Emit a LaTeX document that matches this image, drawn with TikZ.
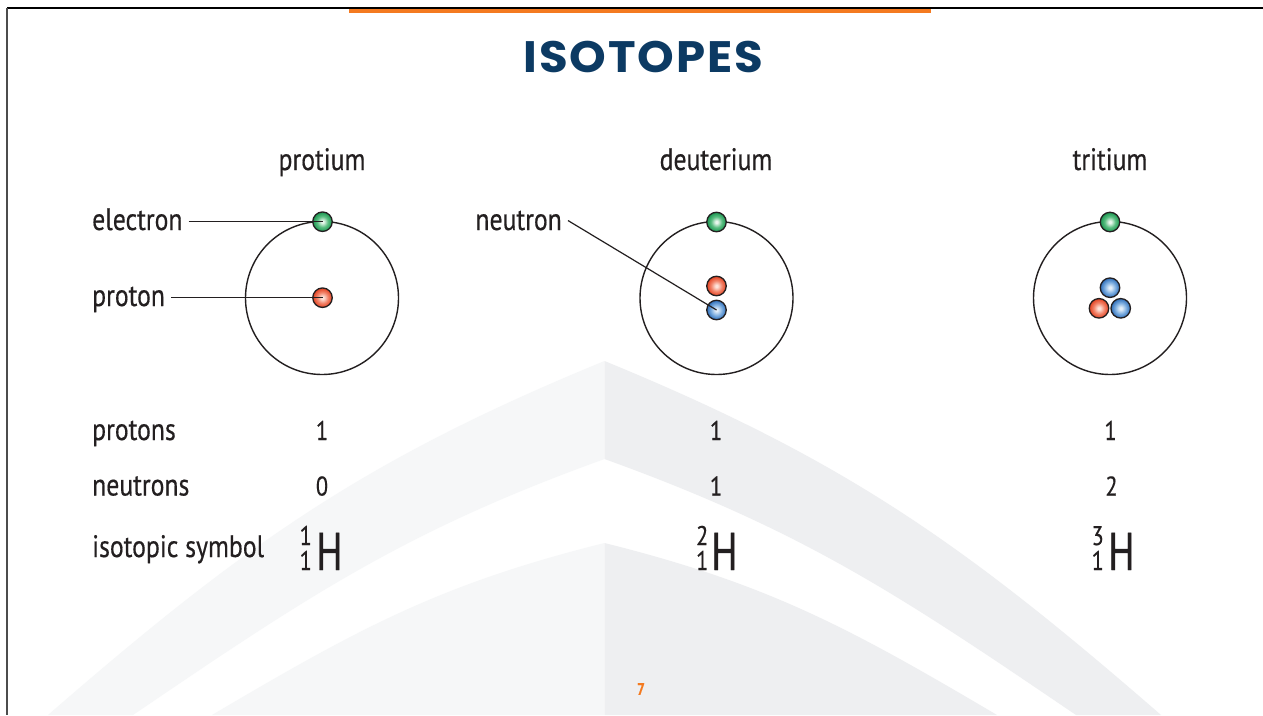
\documentclass[tikz,border=0pt]{standalone}
\usepackage{fontspec}
\setmainfont{PT Sans}[FakeStretch=0.83, FakeBold=0.4]
\newfontfamily\titlefont{Poppins}[FakeStretch=1.06, LetterSpace=4.5]
\newfontfamily\symfont{PT Sans}[FakeStretch=0.74, FakeBold=0.8]

% palette
\definecolor{ink}{HTML}{231F20}
\definecolor{navy}{HTML}{0C3A63}
\definecolor{accent}{HTML}{F47A20}
\definecolor{archL}{HTML}{F6F7F8}
\definecolor{archR}{HTML}{EEEFF1}
\definecolor{gCore}{HTML}{E8F6EC}
\definecolor{gMid}{HTML}{59BD80}
\definecolor{gEdge}{HTML}{1A9550}
\definecolor{rCore}{HTML}{FDE3DA}
\definecolor{rMid}{HTML}{F2846A}
\definecolor{rEdge}{HTML}{E2401F}
\definecolor{bCore}{HTML}{E3EEF9}
\definecolor{bMid}{HTML}{7DAEE0}
\definecolor{bEdge}{HTML}{2E6DB8}

% glossy particle shadings (edge of the circle sits at 25bp)
\pgfdeclareradialshading{greenball}{\pgfpoint{0bp}{0bp}}{%
  color(0bp)=(gCore); color(3bp)=(gCore); color(14bp)=(gMid); color(25bp)=(gEdge); color(50bp)=(gEdge)}
\pgfdeclareradialshading{redball}{\pgfpoint{0bp}{0bp}}{%
  color(0bp)=(rCore); color(3bp)=(rCore); color(14bp)=(rMid); color(25bp)=(rEdge); color(50bp)=(rEdge)}
\pgfdeclareradialshading{blueball}{\pgfpoint{0bp}{0bp}}{%
  color(0bp)=(bCore); color(3bp)=(bCore); color(14bp)=(bMid); color(25bp)=(bEdge); color(50bp)=(bEdge)}

\tikzset{
  orbit/.style={draw=ink, line width=1.4pt},
  particle/.style={circle, minimum size=19.5pt, inner sep=0pt, draw=ink, line width=1.3pt},
  electronball/.style={particle, shading=greenball},
  protonball/.style={particle, shading=redball},
  neutronball/.style={particle, shading=blueball},
  leader/.style={draw=ink, line width=1.2pt},
  sidetext/.style={text=ink, font=\fontsize{31}{31}\selectfont, inner xsep=6pt, inner ysep=0pt},
  header/.style={text=ink, font=\fontsize{31}{31}\selectfont, inner sep=0pt, anchor=base},
  rowname/.style={text=ink, font=\fontsize{31}{31}\selectfont, inner sep=0pt, anchor=base west},
  rowvalue/.style={text=ink, font=\fontsize{27}{27}\selectfont, inner sep=0pt, anchor=base},
  element/.style={text=ink, font=\symfont\fontsize{53}{53}\selectfont, inner sep=0pt, anchor=base west},
  nucleon/.style={text=ink, font=\fontsize{27}{27}\selectfont, inner sep=0pt, anchor=base east},
}

\begin{document}
\begin{tikzpicture}[x=1pt, y=-1pt]
\useasboundingbox (0,0) rectangle (1263,715);
\fill[white] (0,0) rectangle (1263,715);

% background arches
\fill[archL] (604.5,361) .. controls (364,459.6) and (244.3,544.4) .. (48,715)
  -- (133,715) .. controls (308.3,595.9) and (405,530.9) .. (604.5,459) -- cycle;
\fill[archR] (604.5,361) .. controls (845,459.6) and (964.7,544.4) .. (1161,715)
  -- (1076,715) .. controls (900.7,595.9) and (804,530.9) .. (604.5,459) -- cycle;
\fill[archL] (604.5,543) .. controls (439.6,584.1) and (358.5,628.6) .. (212,715)
  -- (604.5,715) -- cycle;
\fill[archR] (604.5,543) .. controls (769.4,584.1) and (850.5,628.6) .. (997,715)
  -- (604.5,715) -- cycle;

% frame and accent bar
\draw[line width=1.2pt, black] (7,8) -- (1263,8);
\draw[line width=1.2pt, black!70] (7,8) -- (7,715);
\fill[accent] (349,9) rectangle (931,13);

% title
\node[text=navy, font=\titlefont\bfseries\fontsize{44}{44}\selectfont, inner sep=0pt, anchor=base]
  (title) at (643.5,72.3) {ISOTOPES};

% column headers
\node[header] (hprotium) at (322,170) {protium};
\node[header] (hdeuterium) at (716,170) {deuterium};
\node[header] (htritium) at (1110,170) {tritium};

% orbits
\draw[orbit] (322,298) circle[radius=76.5];
\draw[orbit] (716.5,298) circle[radius=76.5];
\draw[orbit] (1110,298) circle[radius=76.5];

% protium
\node[electronball] (e1) at (322.5,221.7) {};
\node[protonball] (p1) at (322.5,297.7) {};
% deuterium
\node[electronball] (e2) at (716.5,222) {};
\node[protonball] (p2) at (716.5,286) {};
\node[neutronball] (n2) at (716.5,310) {};
% tritium
\node[electronball] (e3) at (1110,222) {};
\node[neutronball] (n3a) at (1110,287.7) {};
\node[protonball] (p3) at (1099,308.3) {};
\node[neutronball] (n3b) at (1120.7,308.3) {};

% side labels and leaders
\node[sidetext, anchor=base west] (lelectron) at (86,230) {electron};
\node[sidetext, anchor=base west] (lproton) at (86,306) {proton};
\node[sidetext, anchor=base east] (lneutron) at (568,230) {neutron};
\draw[leader] (lelectron.east |- e1.center) -- (e1.center);
\draw[leader] (lproton.east |- p1.center) -- (p1.center);
\draw[leader] (lneutron.east) -- (n2.center);

% table rows
\node[rowname] (rprotons) at (92,440) {protons};
\node[rowname] (rneutrons) at (92,495.5) {neutrons};
\node[rowname] (rsymbol) at (92,557) {isotopic symbol};

\node[rowvalue] (zp1) at (322,440) {1};
\node[rowvalue] (zp2) at (716,440) {1};
\node[rowvalue] (zp3) at (1110.5,440) {1};
\node[rowvalue] (nn1) at (322,495.5) {0};
\node[rowvalue] (nn2) at (716,495.5) {1};
\node[rowvalue] (nn3) at (1111.5,495.5) {2};

% isotopic symbols
\node[element] (h1) at (316,570) {H};
\node[nucleon] (a1) at (312,545) {1};
\node[nucleon] (z1) at (312,570) {1};
\node[element] (h2) at (711,570) {H};
\node[nucleon] (a2) at (708.5,545) {2};
\node[nucleon] (z2) at (708.5,570) {1};
\node[element] (h3) at (1108,570) {H};
\node[nucleon] (a3) at (1104,545) {3};
\node[nucleon] (z3) at (1104,570) {1};

% page number
\node[text=accent, font=\bfseries\fontsize{17}{17}\selectfont, inner sep=0pt] (pagenum) at (641,689) {7};
\end{tikzpicture}
\end{document}
